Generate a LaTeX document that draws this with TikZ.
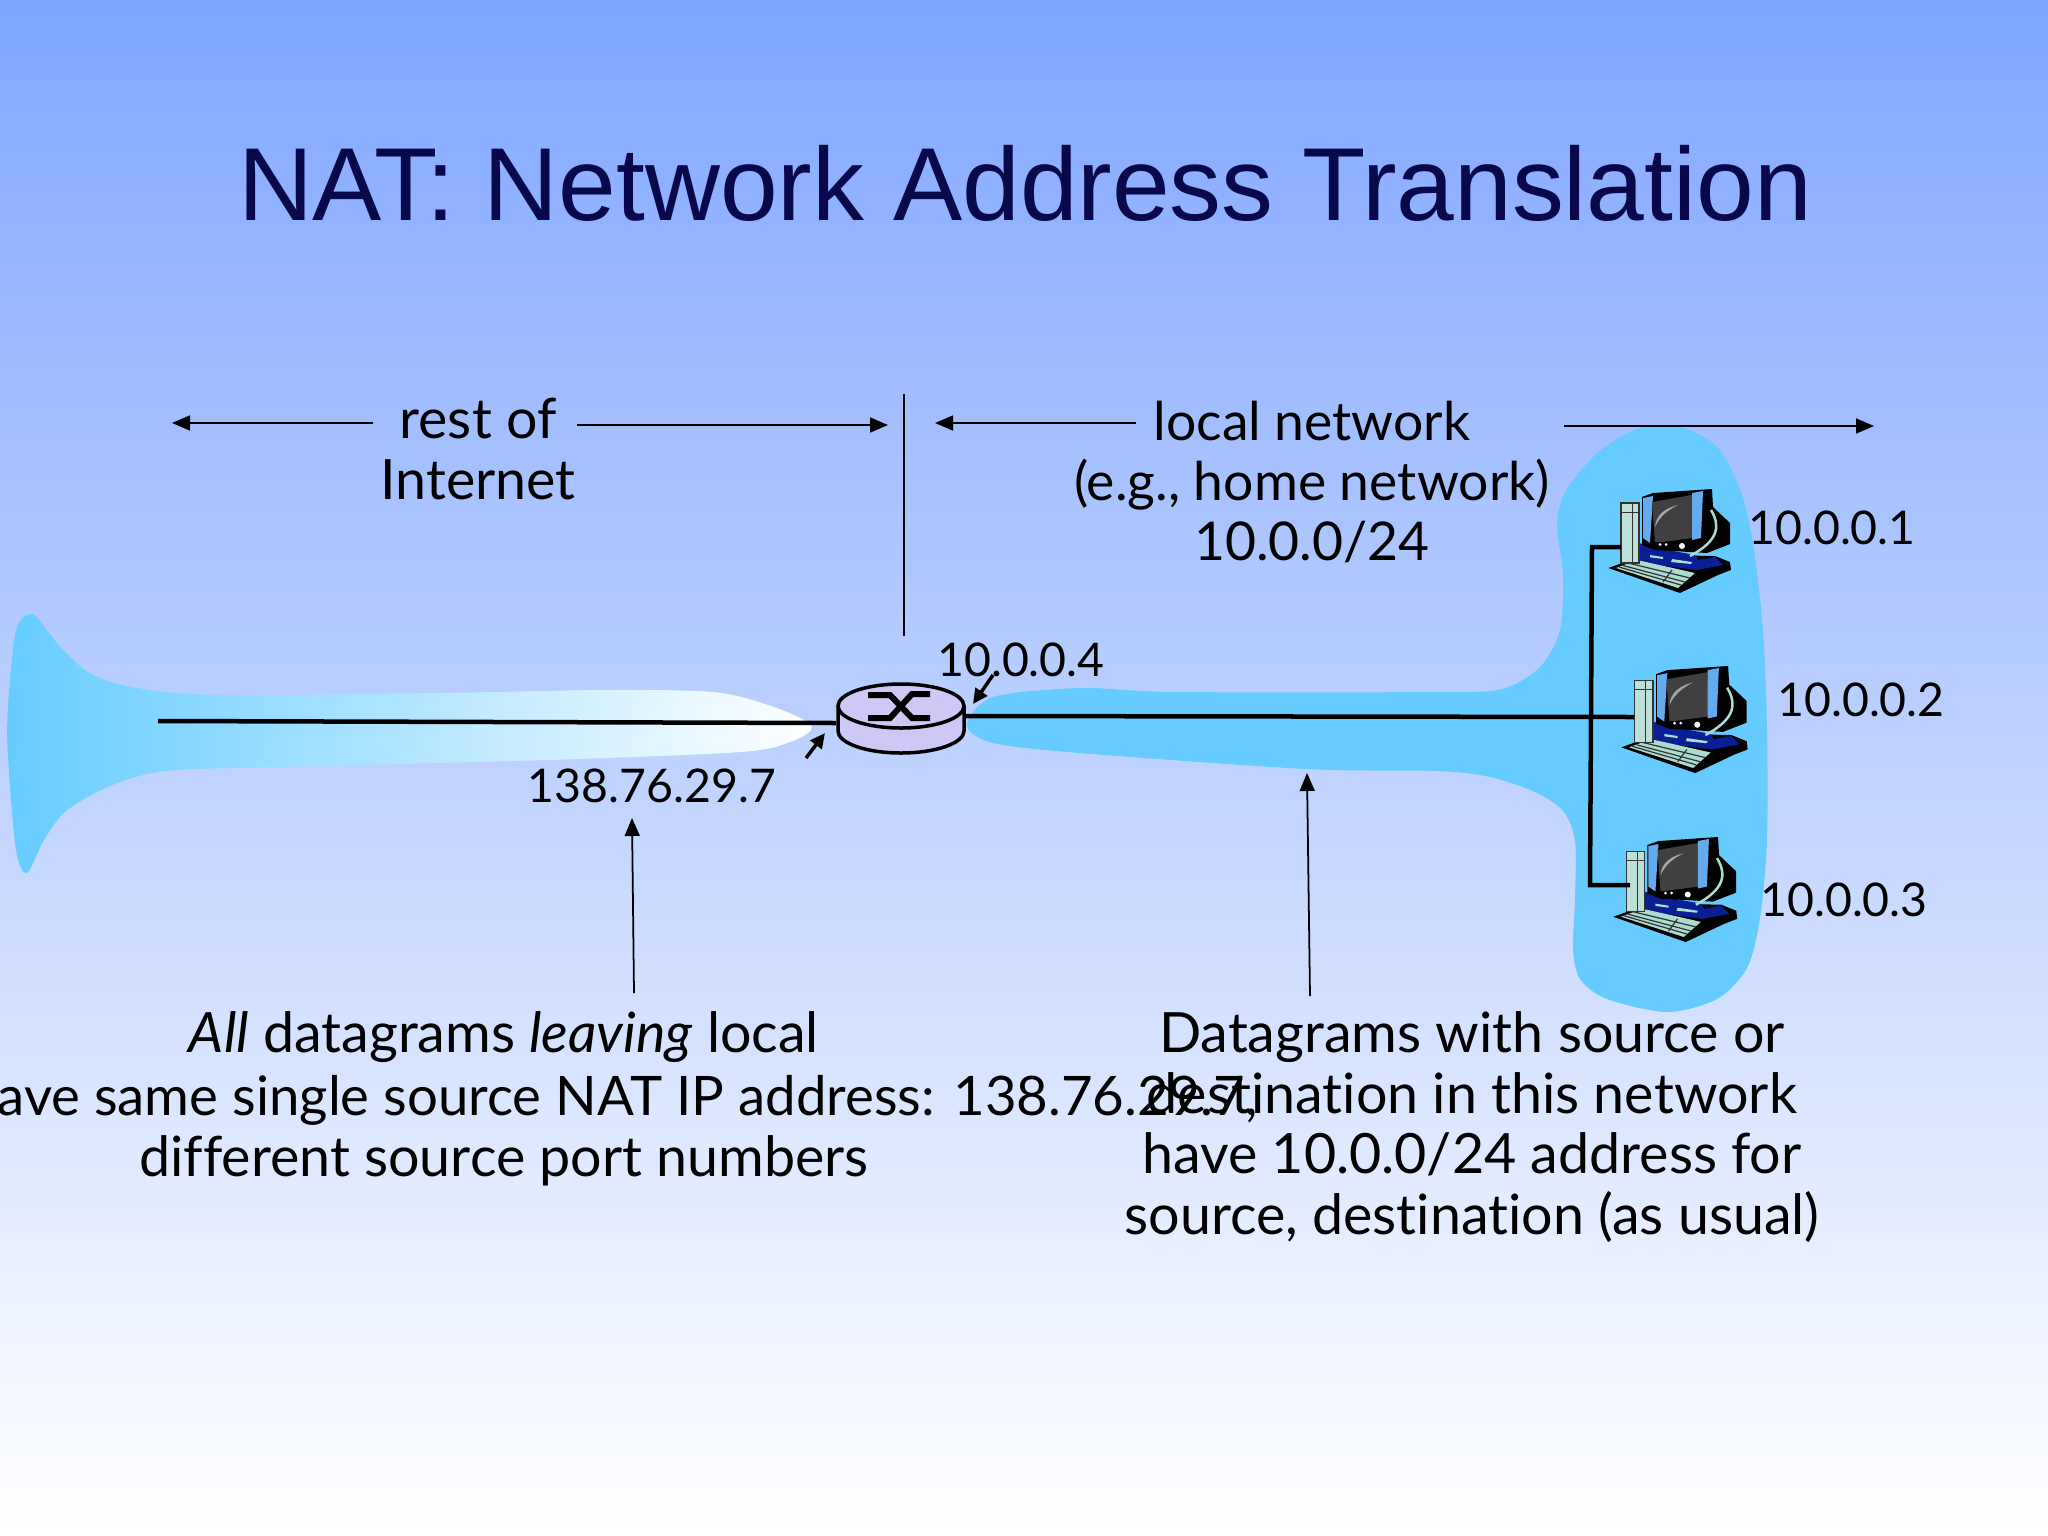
\documentclass[tikz,border=0pt]{standalone}
\usepackage{fontspec}
\setmainfont{Lato}[Ligatures=NoCommon]
\newfontfamily\titlefont{Liberation Sans}
\usetikzlibrary{arrows.meta, positioning}

\definecolor{slidetop}{RGB}{127,166,255}
\definecolor{titleblue}{RGB}{8,8,75}
\definecolor{cloudblue}{RGB}{102,204,255}
\definecolor{routerfill}{RGB}{205,200,245}
\definecolor{pcmint}{RGB}{170,220,208}
\definecolor{pcpale}{RGB}{190,225,215}
\definecolor{pcnavy}{RGB}{10,30,150}
\definecolor{pcscreen}{RGB}{64,64,64}
\definecolor{pcbezel}{RGB}{100,170,238}

\tikzset{
  bodytext/.style={font=\fontsize{15.8}{17.2}\selectfont, align=center, inner sep=0pt},
  rangetext/.style={font=\fontsize{15.2}{17.2}\selectfont, align=center, inner sep=0pt},
  addrtext/.style={font=\fontsize{13.2}{16}\selectfont, inner sep=0pt},
  wire/.style={line width=0.045cm, black},
  thinarrow/.style={-{Stealth[length=0.18cm,width=0.15cm,inset=0pt]}, line width=0.5pt},
  shortarrow/.style={-{Stealth[length=0.15cm,width=0.14cm,inset=0pt]}, line width=1pt},
  router/.pic={
    \path[fill=routerfill, draw=black, line width=0.035cm]
      (-63,-12) -- (-63,13) arc[start angle=180, end angle=0, x radius=63, y radius=22] -- (63,-12);
    \draw[fill=routerfill, line width=0.035cm] (0,-12) ellipse[x radius=63, y radius=22];
    \draw[line width=0.06cm] (-33,-23) -- (-11,-23) -- (11,0) -- (29,0);
    \draw[line width=0.06cm] (-33,0) -- (-11,0) -- (11,-24) -- (29,-24);
  },
  pc/.pic={
    % base and keyboard
    \fill[black] (0.3,78) -- (17,72) -- (47,65) -- (107,66) -- (122,72) -- (123,80) -- (110,85) -- (72,103) -- cycle;
    \fill[pcnavy] (31,53) -- (31,70) -- (49,75) -- (89,80) -- (115,75) -- (107,67) -- (90,70) -- (87,65) -- (49,58) -- cycle;
    \fill[pcmint] (42,65) -- (55,67) -- (55,69) -- (42,67.3) -- cycle (64,69) -- (84,72) -- (83,74) -- (63,72) -- cycle;
    \fill[pcmint] (8,78) -- (29,70) -- (87,83) -- (70,98) -- cycle;
    \draw[black!80, line width=0.012cm] (15,75.5) -- (77,92) (20,73) -- (82,88) (11,77) -- (73,95) (64,80) -- (55,92);
    % tower
    \draw[fill=pcpale, draw=black!80, line width=0.012cm] (13,13) rectangle (31,73);
    \draw[black!80, line width=0.01cm] (13,22) -- (31,22) (24,13) -- (24,73);
    % monitor
    \fill[black] (34,7) -- (45,3) -- (104,-1) -- (105,17) -- (122,33) -- (122,54) -- (99,63) -- (47,60) -- (34,55) -- cycle;
    \draw[pcmint, line width=0.025cm] (103,20) .. controls (112,35) and (112,50) .. (82,66);
    \fill[pcbezel] (35,8) -- (45,6) -- (42,53) -- (35,48) -- cycle;
    \fill[pcscreen] (44,12) -- (84,5) -- (85,48) -- (47,53) -- cycle;
    \fill[gray!70] (47,37) .. controls (48,24) and (58,18) .. (70,15) .. controls (60,20) and (52,26) .. (47,37) -- cycle;
    \fill[pcbezel] (84,3) -- (95,1) -- (93,48) -- (84,50) -- cycle;
    \fill[black] (47,52) rectangle (82,60);
    \fill[white] (52,54.5) circle[radius=1.5] (58,54.5) circle[radius=1.5] (74,56) circle[radius=3];
  }
}

\begin{document}
\begin{tikzpicture}[x=0.01cm, y=-0.01cm]

  % Background
  \shade[top color=slidetop, bottom color=white] (0,0) rectangle (2048,1536);
  \useasboundingbox (0,0) rectangle (2048,1536);

  % Title
  \node (title) at (1025,183) [font=\titlefont\fontsize{29.5}{36}\selectfont, text=titleblue, inner sep=0pt] {NAT: Network Address Translation};

  % Left blob
  \shade[left color=cloudblue, right color=white, shading angle=90] plot[smooth cycle, tension=0.5] coordinates {
    (32,614) (49,633) (66,653) (93,675) (137,688) (219,695) (439,693) (603,690) (713,692)
    (768,705) (804,720) (811,730) (790,742) (741,752) (548,760) (274,767) (165,771)
    (110,786) (66,811) (44,840) (27,873) (16,850) (8,757) (8,707) (16,630)};

  % Right blob
  \fill[cloudblue] plot[smooth cycle, tension=0.5] coordinates {
    (1640,428) (1683,428) (1717,447) (1740,489) (1753,543) (1763,631) (1767,727) (1767,841)
    (1760,918) (1747,968) (1717,999) (1667,1012) (1607,999) (1580,979) (1573,949) (1575,899)
    (1575,841) (1563,811) (1535,792) (1490,777) (1437,771) (1306,769) (1080,753) (993,743) (967,725)
    (993,697) (1080,688) (1175,692) (1437,692) (1502,689) (1540,667) (1560,630) (1563,575)
    (1557,523) (1567,489) (1600,451)};

  % Router and hosts
  \pic (natbox) at (901,718) {router};
  \pic (hostone) at (1608,490) {pc};
  \pic[scale=1.03] (hosttwo) at (1621,667) {pc};
  \pic[scale=1.01] (hostthree) at (1613,838) {pc};

  \coordinate (routerwest) at (836,723);
  \coordinate (routereast) at (966,716);
  \coordinate (wanend) at (158,721);
  \coordinate (portone) at (1621,547);
  \coordinate (porttwo) at (1634,717);
  \coordinate (portthree) at (1630,885);
  \coordinate (bustop) at (1592,547);
  \coordinate (busbottom) at (1590,885);

  % Links
  \draw[wire] (wanend) -- (routerwest);
  \draw[wire] (routereast) -- (porttwo);
  \draw[wire] (portone) -- (bustop) -- (busbottom) -- (portthree);

  % Range labels
  \node (restlabel) at (478,449) [bodytext] {rest of\\Internet};
  \node (locallabel) at (1312,482) [rangetext] {local network\\(e.g., home network)\\10.0.0/24};

  \coordinate (restleft) at (373,423);
  \coordinate (restleftend) at (172,423);
  \coordinate (restright) at (577,425);
  \coordinate (restrightend) at (888,425);
  \coordinate (localleft) at (1136,423);
  \coordinate (localleftend) at (935,423);
  \coordinate (localright) at (1564,426);
  \coordinate (localrightend) at (1874,426);
  \draw[thinarrow] (restleft) -- (restleftend);
  \draw[thinarrow] (restright) -- (restrightend);
  \draw[thinarrow] (localleft) -- (localleftend);
  \draw[thinarrow] (localright) -- (localrightend);

  % Divider
  \coordinate (dividertop) at (904,394);
  \coordinate (dividerbottom) at (904,636);
  \draw[line width=0.5pt] (dividertop) -- (dividerbottom);

  % Addresses
  \node (addrone) at (1832,528) [addrtext] {10.0.0.1};
  \node (addrtwo) at (1861,700) [addrtext] {10.0.0.2};
  \node (addrthree) at (1844,900) [addrtext] {10.0.0.3};
  \node (addrfour) at (1021,660) [addrtext] {10.0.0.4};
  \node (addrwan) at (652,786) [addrtext] {138.76.29.7};

  \coordinate (fourtail) at (993,675);
  \coordinate (fourtip) at (973,704);
  \coordinate (wantail) at (806,758);
  \coordinate (wantip) at (825,733);
  \draw[shortarrow] (fourtail) -- (fourtip);
  \draw[shortarrow] (wantail) -- (wantip);

  % Left note
  \node (leftone) at (504,1037) [bodytext] {\textit{All} datagrams \textit{leaving} local};
  \node (lefttwo) at (-3,1100) [rangetext, font=\fontsize{15.5}{17.2}\selectfont, anchor=west] {ave same single source NAT IP address: 138.76.29.7,};
  \node (leftthree) at (504,1161) [bodytext] {different source port numbers};

  % Right note
  \node (rightnote) at (1472,1127) [bodytext] {Datagrams with source or\\destination in this network\\have 10.0.0/24 address for\\source, destination (as usual)};

  \coordinate (lefttail) at (634,993);
  \coordinate (lefttip) at (632,818);
  \coordinate (righttail) at (1310,996);
  \coordinate (righttip) at (1307,773);
  \draw[thinarrow] (lefttail) -- (lefttip);
  \draw[thinarrow] (righttail) -- (righttip);

\end{tikzpicture}
\end{document}
